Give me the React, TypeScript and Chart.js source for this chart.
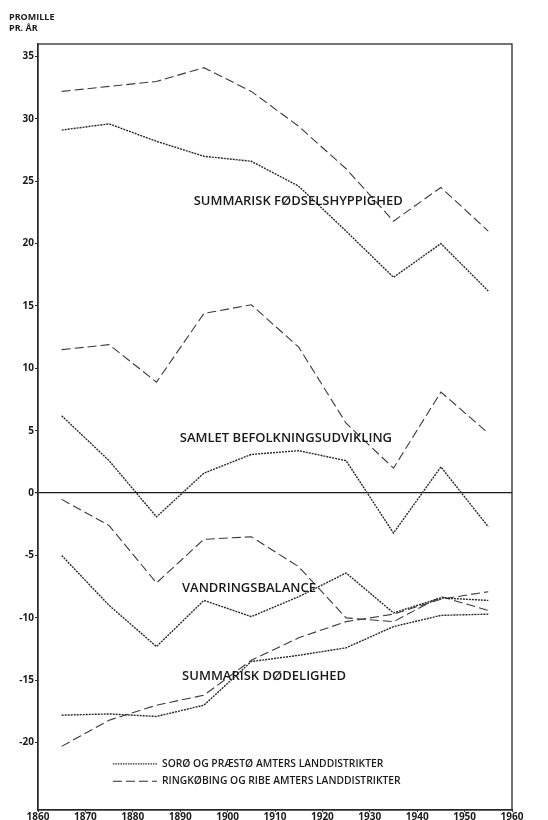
import React, { useEffect, useRef } from "react";
import { Chart, registerables } from "chart.js";

Chart.register(...registerables);

const years = [1865, 1875, 1885, 1895, 1905, 1915, 1925, 1935, 1945, 1955];

// Sorø og Præstø (dotted)
const birthSoro = [29.1, 29.6, 28.2, 27.0, 26.6, 24.6, 21.0, 17.3, 20.0, 16.2];
const growthSoro = [6.2, 2.6, -1.9, 1.6, 3.1, 3.4, 2.6, -3.2, 2.1, -2.7];
const migrationSoro = [-5.0, -9.0, -12.3, -8.6, -9.9, -8.3, -6.4, -9.6, -8.4, -8.6];
const mortalitySoro = [-17.8, -17.7, -17.9, -17.0, -13.5, -13.0, -12.4, -10.7, -9.8, -9.7];

// Ringkøbing og Ribe (dashed)
const birthRingk = [32.2, 32.6, 33.0, 34.1, 32.2, 29.4, 26.0, 21.8, 24.5, 21.0];
const growthRingk = [11.5, 11.9, 8.9, 14.4, 15.1, 11.7, 5.6, 2.0, 8.1, 4.8];
const migrationRingk = [-0.5, -2.6, -7.2, -3.7, -3.5, -5.9, -10.0, -10.3, -8.3, -9.4];
const mortalityRingk = [-20.3, -18.2, -17.0, -16.2, -13.4, -11.6, -10.3, -9.7, -8.5, -7.9];

const yTicks = [35, 30, 25, 20, 15, 10, 5, 0, -5, -10, -15, -20];
const xTicks = [1860, 1870, 1880, 1890, 1900, 1910, 1920, 1930, 1940, 1950, 1960];

const seriesLabels = [
  "SUMMARISK FØDSELSHYPPIGHED",
  "SAMLET BEFOLKNINGSUDVIKLING",
  "VANDRINGSBALANCE",
  "SUMMARISK DØDELIGHED",
];
// label anchor positions in data units (year, promille)
const labelYears = [1914.9, 1912.3, 1904.5, 1907.7];
const labelValues = [23.4, 4.4, -7.6, -14.7];

const legendLabels = [
  "SORØ OG PRÆSTØ AMTERS LANDDISTRIKTER",
  "RINGKØBING OG RIBE AMTERS LANDDISTRIKTER",
];
const legendLineYears = [1875.8, 1885.1];
const legendValues = [-21.7, -23.1];

const FONT = "'Open Sans', 'DejaVu Sans', sans-serif";
const DOT: number[] = [2, 1];
const DASH: number[] = [9, 4];
const INK = "#2a2a2a";

function pts(vals: number[]) {
  return years.map((x, i) => ({ x, y: vals[i] }));
}

export default function App() {
  const ref = useRef<HTMLCanvasElement | null>(null);

  useEffect(() => {
    if (!ref.current) return;
    const mk = (vals: number[], dashed: boolean) => ({
      data: pts(vals),
      borderColor: dashed ? "#3a3a3a" : INK,
      borderWidth: dashed ? 1.1 : 1.4,
      borderDash: dashed ? DASH : DOT,
      pointRadius: 0,
      tension: 0,
      fill: false,
    });

    const annotate = {
      id: "annotate",
      afterDatasetsDraw(chart: any) {
        const { ctx, chartArea, scales } = chart;
        const xs = scales.x;
        const ys = scales.y;
        ctx.save();
        // frame
        ctx.strokeStyle = INK;
        ctx.lineWidth = 1.3;
        ctx.setLineDash([]);
        ctx.strokeRect(chartArea.left, chartArea.top, chartArea.right - chartArea.left, chartArea.bottom - chartArea.top);
        // series labels
        ctx.fillStyle = "#1a1a1a";
        ctx.font = `600 13px ${FONT}`;
        ctx.textAlign = "center";
        ctx.textBaseline = "middle";
        seriesLabels.forEach((t, i) => {
          ctx.fillText(t, xs.getPixelForValue(labelYears[i]), ys.getPixelForValue(labelValues[i]));
        });
        // legend
        ctx.font = `600 10.3px ${FONT}`;
        ctx.textAlign = "left";
        legendLabels.forEach((t, i) => {
          const y = ys.getPixelForValue(legendValues[i]);
          ctx.beginPath();
          ctx.setLineDash(i === 0 ? [1.5, 1] : DASH);
          ctx.lineWidth = i === 0 ? 1.4 : 1.1;
          ctx.moveTo(xs.getPixelForValue(legendLineYears[0]), y);
          ctx.lineTo(xs.getPixelForValue(legendLineYears[1]), y);
          ctx.stroke();
          ctx.setLineDash([]);
          ctx.fillText(t, xs.getPixelForValue(legendLineYears[1]) + 5, y);
        });
        // y axis title
        ctx.font = `700 9px ${FONT}`;
        ctx.fillText("PROMILLE", 9, 17);
        ctx.fillText("PR. ÅR", 9, 28);
        ctx.restore();
      },
    };

    const chart = new Chart(ref.current, {
      type: "line",
      data: {
        datasets: [
          mk(birthSoro, false),
          mk(birthRingk, true),
          mk(growthSoro, false),
          mk(growthRingk, true),
          mk(migrationSoro, false),
          mk(migrationRingk, true),
          mk(mortalitySoro, false),
          mk(mortalityRingk, true),
        ],
      },
      options: {
        animation: false,
        responsive: false,
        maintainAspectRatio: false,
        layout: { padding: { left: 0, top: 44, right: 36, bottom: 0 } },
        plugins: { legend: { display: false }, tooltip: { enabled: false } },
        scales: {
          x: {
            type: "linear",
            min: 1860,
            max: 1960,
            afterBuildTicks: (s: any) => {
              s.ticks = xTicks.map((v) => ({ value: v }));
            },
            afterFit: (s: any) => {
              s.height = 10;
            },
            grid: { drawOnChartArea: false, tickLength: 2, color: INK },
            border: { display: true, color: INK, width: 1.3 },
            ticks: {
              padding: -1,
              maxRotation: 0,
              autoSkip: false,
              color: "#1a1a1a",
              font: { family: FONT, size: 10, weight: "bold" },
              callback: (v: any) => String(v),
            },
          },
          y: {
            type: "linear",
            min: -25.4,
            max: 36,
            afterBuildTicks: (s: any) => {
              s.ticks = yTicks.map((v) => ({ value: v }));
            },
            afterFit: (s: any) => {
              s.width = 38;
            },
            grid: {
              drawOnChartArea: true,
              tickLength: 3,
              color: (c: any) => (c.tick && c.tick.value === 0 ? "#1a1a1a" : "rgba(0,0,0,0)"),
              lineWidth: (c: any) => (c.tick && c.tick.value === 0 ? 1.3 : 1),
              tickColor: INK,
            },
            border: { display: true, color: INK, width: 1.3 },
            ticks: {
              padding: 1,
              autoSkip: false,
              color: "#1a1a1a",
              font: { family: FONT, size: 10, weight: "bold" },
              callback: (v: any) => String(v),
            },
          },
        },
      },
      plugins: [annotate],
    } as any);
    return () => chart.destroy();
  }, []);

  return (
    <div style={{ position: "fixed", left: 0, top: 0, width: 548, height: 820, background: "#fff" }}>
      <canvas ref={ref} width={548} height={820} style={{ width: 548, height: 820, display: "block" }} />
    </div>
  );
}
